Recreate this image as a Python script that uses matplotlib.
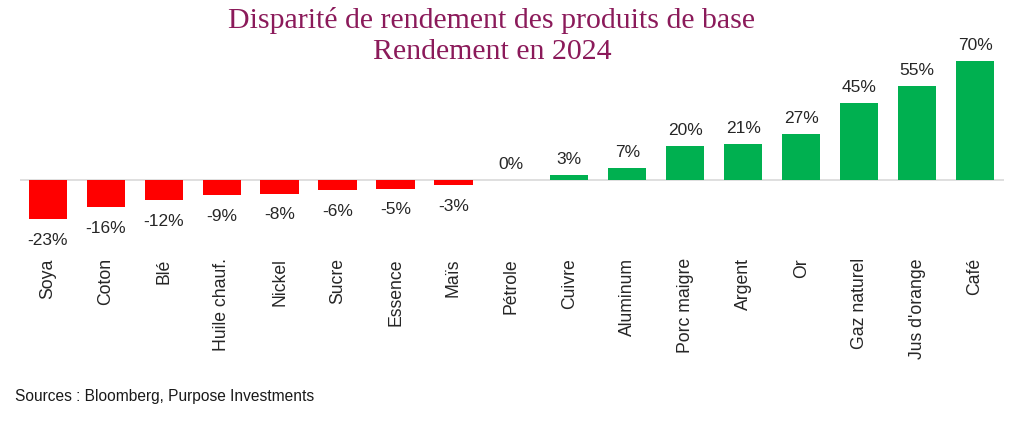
import matplotlib.pyplot as plt
import numpy as np

categories = ["Soya", "Coton", "Blé", "Huile chauf.", "Nickel", "Sucre", "Essence", "Maïs",
              "Pétrole", "Cuivre", "Aluminum", "Porc maigre", "Argent", "Or",
              "Gaz naturel", "Jus d'orange", "Café"]
returns = [-23, -16, -12, -9, -8, -6, -5, -3, 0, 3, 7, 20, 21, 27, 45, 55, 70]

W, H = 1024, 424
fig = plt.figure(figsize=(W / 100, H / 100), dpi=100)
plt.rcParams['font.family'] = ['Liberation Sans', 'DejaVu Sans']

# axes placed in pixel terms: x 20..1004, y 35..250 (from top)
ax = fig.add_axes([20 / W, 1 - 250 / H, 984 / W, 215 / H])
x = np.arange(len(categories))
colors = ["#FF0000" if v < 0 else "#00B050" for v in returns]
ax.bar(x, returns, width=0.66, color=colors)

ax.set_xlim(-0.48, 16.5)
ax.set_ylim(-70 / 1.7, 145 / 1.7)
ax.axhline(0, color="#D9D9D9", lw=1.2, zorder=0)

for xi, v in zip(x, returns):
    if v < 0:
        ax.annotate(f"{v}%", (xi, v), xytext=(0, -10), textcoords="offset points",
                    ha="center", va="top", fontsize=12.5, color="#262626")
    else:
        ax.annotate(f"{v}%", (xi, v), xytext=(0, 6), textcoords="offset points",
                    ha="center", va="bottom", fontsize=12.5, color="#262626")

ax.set_xticks(x)
ax.set_xticklabels(categories, rotation=90, fontsize=12.7, color="#262626")
ax.tick_params(axis="x", length=0, pad=6)
ax.set_yticks([])
for s in ax.spines.values():
    s.set_visible(False)

fig.text(492 / W, 1 - 21 / H, "Disparité de rendement des produits de base",
         ha="center", va="center", fontsize=21.5, color="#8B1A5A",
         family=["Liberation Serif", "DejaVu Serif"])
fig.text(492 / W, 1 - 52 / H, "Rendement en 2024",
         ha="center", va="center", fontsize=21.5, color="#8B1A5A",
         family=["Liberation Serif", "DejaVu Serif"])
fig.text(15 / W, 1 - 397 / H, "Sources : Bloomberg, Purpose Investments",
         ha="left", va="center", fontsize=11.2, color="#1a1a1a")

fig.savefig("out.png", dpi=100)
